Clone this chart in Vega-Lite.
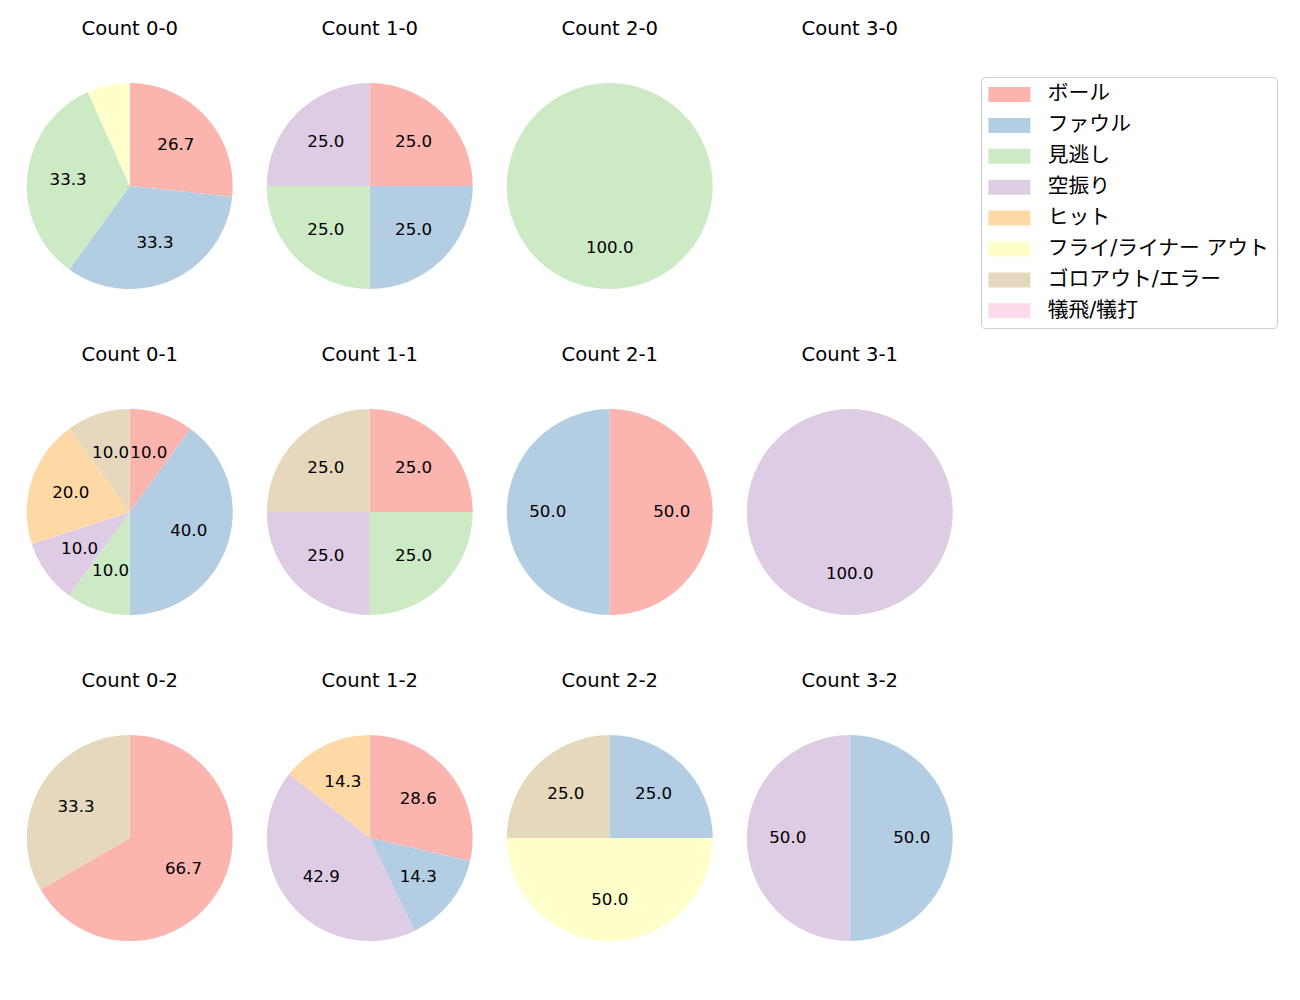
{
  "$schema": "https://vega.github.io/schema/vega-lite/v6.json",
  "padding": {"left": 10, "top": 19.1, "right": 5, "bottom": 5},
  "config": {
    "view": {"stroke": null},
    "font": "DejaVu Sans",
    "header": {"labelFont": "DejaVu Sans", "labelFontSize": 19.6, "labelColor": "#000000"},
    "legend": {"labelFont": "DejaVu Sans, Noto Sans CJK JP", "labelFontSize": 20.8, "labelColor": "#000000"}
  },
  "data": {
    "values": [
      {"count": "Count 0-0", "cat": "ボール", "idx": 0, "value": 26.667, "label": "26.7"},
      {"count": "Count 0-0", "cat": "ファウル", "idx": 1, "value": 33.333, "label": "33.3"},
      {"count": "Count 0-0", "cat": "見逃し", "idx": 2, "value": 33.333, "label": "33.3"},
      {"count": "Count 0-0", "cat": "フライ/ライナー アウト", "idx": 5, "value": 6.667, "label": ""},
      {"count": "Count 1-0", "cat": "ボール", "idx": 0, "value": 25, "label": "25.0"},
      {"count": "Count 1-0", "cat": "ファウル", "idx": 1, "value": 25, "label": "25.0"},
      {"count": "Count 1-0", "cat": "見逃し", "idx": 2, "value": 25, "label": "25.0"},
      {"count": "Count 1-0", "cat": "空振り", "idx": 3, "value": 25, "label": "25.0"},
      {"count": "Count 2-0", "cat": "見逃し", "idx": 2, "value": 100, "label": "100.0"},
      {"count": "Count 3-0", "cat": "ボール", "idx": 0, "value": 0, "label": ""},
      {"count": "Count 0-1", "cat": "ボール", "idx": 0, "value": 10, "label": "10.0"},
      {"count": "Count 0-1", "cat": "ファウル", "idx": 1, "value": 40, "label": "40.0"},
      {"count": "Count 0-1", "cat": "見逃し", "idx": 2, "value": 10, "label": "10.0"},
      {"count": "Count 0-1", "cat": "空振り", "idx": 3, "value": 10, "label": "10.0"},
      {"count": "Count 0-1", "cat": "ヒット", "idx": 4, "value": 20, "label": "20.0"},
      {"count": "Count 0-1", "cat": "ゴロアウト/エラー", "idx": 6, "value": 10, "label": "10.0"},
      {"count": "Count 1-1", "cat": "ボール", "idx": 0, "value": 25, "label": "25.0"},
      {"count": "Count 1-1", "cat": "見逃し", "idx": 2, "value": 25, "label": "25.0"},
      {"count": "Count 1-1", "cat": "空振り", "idx": 3, "value": 25, "label": "25.0"},
      {"count": "Count 1-1", "cat": "ゴロアウト/エラー", "idx": 6, "value": 25, "label": "25.0"},
      {"count": "Count 2-1", "cat": "ボール", "idx": 0, "value": 50, "label": "50.0"},
      {"count": "Count 2-1", "cat": "ファウル", "idx": 1, "value": 50, "label": "50.0"},
      {"count": "Count 3-1", "cat": "空振り", "idx": 3, "value": 100, "label": "100.0"},
      {"count": "Count 0-2", "cat": "ボール", "idx": 0, "value": 66.667, "label": "66.7"},
      {"count": "Count 0-2", "cat": "ゴロアウト/エラー", "idx": 6, "value": 33.333, "label": "33.3"},
      {"count": "Count 1-2", "cat": "ボール", "idx": 0, "value": 28.571, "label": "28.6"},
      {"count": "Count 1-2", "cat": "ファウル", "idx": 1, "value": 14.286, "label": "14.3"},
      {"count": "Count 1-2", "cat": "空振り", "idx": 3, "value": 42.857, "label": "42.9"},
      {"count": "Count 1-2", "cat": "ヒット", "idx": 4, "value": 14.286, "label": "14.3"},
      {"count": "Count 2-2", "cat": "ファウル", "idx": 1, "value": 25, "label": "25.0"},
      {"count": "Count 2-2", "cat": "フライ/ライナー アウト", "idx": 5, "value": 50, "label": "50.0"},
      {"count": "Count 2-2", "cat": "ゴロアウト/エラー", "idx": 6, "value": 25, "label": "25.0"},
      {"count": "Count 3-2", "cat": "ファウル", "idx": 1, "value": 50, "label": "50.0"},
      {"count": "Count 3-2", "cat": "空振り", "idx": 3, "value": 50, "label": "50.0"}
    ]
  },
  "facet": {
    "field": "count",
    "type": "nominal",
    "title": null,
    "sort": ["Count 0-0", "Count 1-0", "Count 2-0", "Count 3-0", "Count 0-1", "Count 1-1", "Count 2-1", "Count 3-1", "Count 0-2", "Count 1-2", "Count 2-2", "Count 3-2"],
    "header": {"labelPadding": 36}
  },
  "columns": 4,
  "spacing": {"column": 0, "row": 49},
  "spec": {
    "width": 239.5,
    "height": 220,
    "encoding": {
      "theta": {"field": "value", "type": "quantitative", "stack": true, "scale": {"domain": [0, 100]}},
      "order": {"field": "idx", "type": "quantitative"}
    },
    "layer": [
      {
        "mark": {"type": "arc", "outerRadius": 103},
        "encoding": {
          "color": {
            "field": "cat",
            "type": "nominal",
            "title": null,
            "scale": {
              "domain": ["ボール", "ファウル", "見逃し", "空振り", "ヒット", "フライ/ライナー アウト", "ゴロアウト/エラー", "犠飛/犠打"],
              "range": ["#fbb4ae", "#b3cde3", "#ccebc5", "#decbe4", "#fed9a6", "#ffffcc", "#e5d8bd", "#fddaec"]
            },
            "legend": {
              "orient": "none",
              "legendX": 971,
              "legendY": 1,
              "symbolType": "M-1,-0.75H3.2V0.75H-1Z",
              "symbolSize": 400,
              "symbolStrokeWidth": 0,
              "labelOffset": 39,
              "labelLimit": 400,
              "rowPadding": 8.9,
              "padding": 7,
              "strokeColor": "#cccccc",
              "cornerRadius": 4,
              "fillColor": "#ffffff"
            }
          }
        }
      },
      {
        "mark": {"type": "text", "radius": 62, "fontSize": 16.67, "color": "#000000"},
        "encoding": {"text": {"field": "label", "type": "nominal"}}
      }
    ]
  }
}
